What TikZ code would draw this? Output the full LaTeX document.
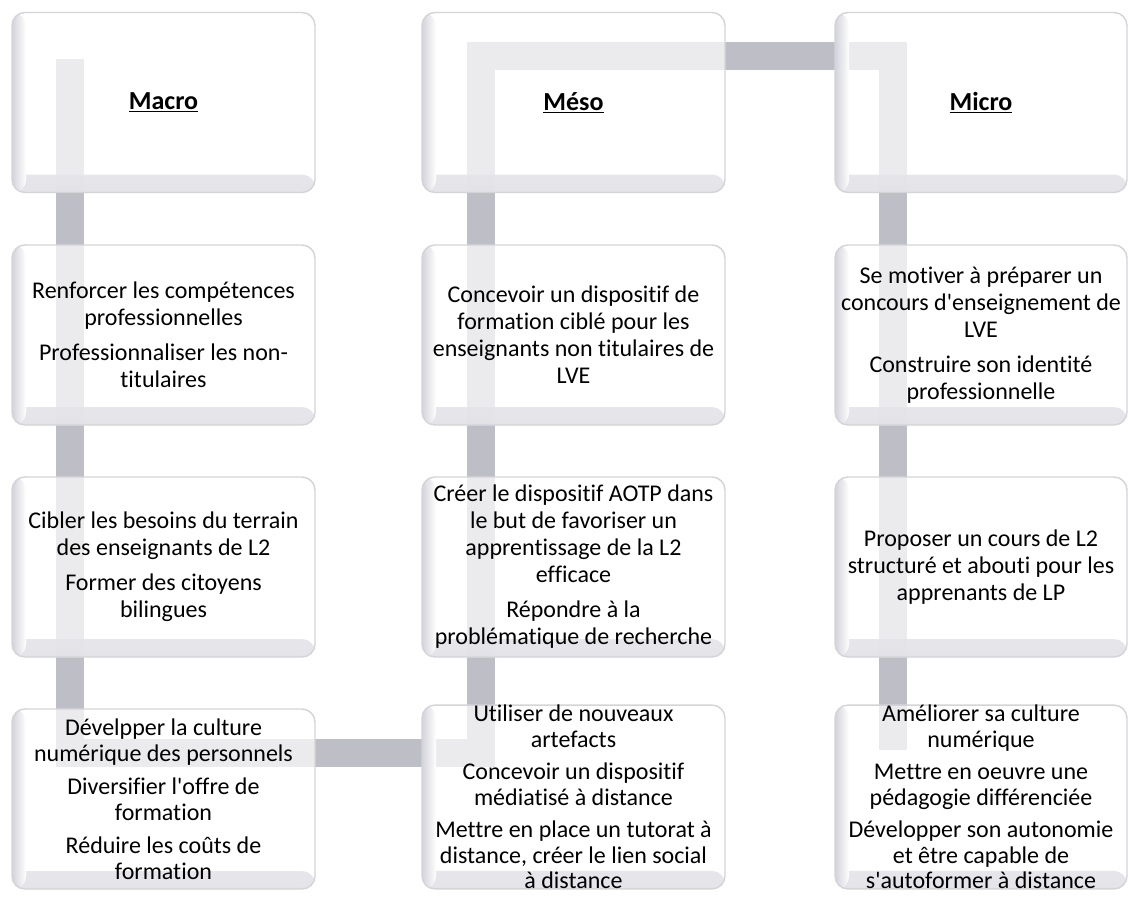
\documentclass[tikz,border=0pt]{standalone}
\usepackage{fontspec}
\setmainfont{Carlito}[Ligatures={TeXOff,CommonOff}]
\definecolor{bandgray}{RGB}{190,190,199}
\definecolor{boxedge}{RGB}{212,212,216}
\definecolor{bevel}{RGB}{204,204,214}
\definecolor{bevelb}{RGB}{216,216,224}
\begin{document}
\begin{tikzpicture}[x=1pt,y=-1pt,
  band/.style={line width=28pt, draw=bandgray, line join=miter},
  box/.style={rectangle, rounded corners=13pt, draw=boxedge, line width=1.4pt,
    fill=white, fill opacity=0.7, text opacity=1, minimum width=303pt,
    minimum height=180pt, inner sep=0pt, align=center,
    font=\fontsize{24}{27}\selectfont,
    path picture={
      \fill[bottom color=bevelb, top color=white, fill opacity=0.7]
        (path picture bounding box.south west) rectangle ([yshift=18pt]path picture bounding box.south east);
      \fill[left color=bevel, right color=white, fill opacity=0.85]
        (path picture bounding box.south west) rectangle ([xshift=14pt]path picture bounding box.north west);
    }},
  narrow/.style={minimum width=292pt},
  tight/.style={font=\fontsize{24}{25.5}\selectfont},
  titletext/.style={font=\fontsize{26}{30}\selectfont\bfseries}
]
\useasboundingbox (0,0) rectangle (1128,899);
\fill[white] (0,0) rectangle (1128,899);

% snake band
\coordinate (b1) at (69.5,59);
\coordinate (b2) at (69.5,752.5);
\coordinate (b3) at (481,752.5);
\coordinate (b4) at (481,56.5);
\coordinate (b5) at (893,56.5);
\coordinate (b6) at (893,750);
\draw[band] (b1) -- (b2) -- (b3) -- (b4) -- (b5) -- (b6);

% column 1
\node[box,titletext] (a1) at (163.5,102.5) {\underline{Macro}};
\node[box] (a2) at (163.5,335) {Renforcer les compétences\\professionnelles\\[8pt]Professionnaliser les non-\\titulaires};
\node[box] (a3) at (163.5,567) {Cibler les besoins du terrain\\des enseignants de L2\\[8pt]Former des citoyens\\bilingues};
\node[box,tight] (a4) at (163.5,799) {Dévelpper la culture\\numérique des personnels\\[8pt]Diversifier l'offre de\\formation\\[8pt]Réduire les coûts de\\formation};

% column 2
\node[box,titletext] (m1) at (573.5,102.5) {\underline{Méso}};
\node[box] (m2) at (573.5,335) {Concevoir un dispositif de\\formation ciblé pour les\\enseignants non titulaires de\\LVE};
\node[box] (m3) at (573.5,567) {Créer le dispositif AOTP dans\\le but de favoriser un\\apprentissage de la L2\\efficace\\[8pt]Répondre à la\\problématique de recherche};
\node[box,tight] (m4) at (573.5,797) {Utiliser de nouveaux\\artefacts\\[7pt]Concevoir un dispositif\\médiatisé à distance\\[7pt]Mettre en place un tutorat à\\distance, créer le lien social\\à distance};

% column 3
\node[box,narrow,titletext] (u1) at (981,102.5) {\underline{Micro}};
\node[box,narrow] (u2) at (981,335) {Se motiver à préparer un\\concours d'enseignement de\\LVE\\[8pt]Construire son identité\\professionnelle};
\node[box,narrow] (u3) at (981,567) {Proposer un cours de L2\\structuré et abouti pour les\\apprenants de LP};
\node[box,narrow,tight] (u4) at (981,797) {Améliorer sa culture\\numérique\\[7pt]Mettre en oeuvre une\\pédagogie différenciée\\[7pt]Développer son autonomie\\et être capable de\\s'autoformer à distance};
\end{tikzpicture}
\end{document}
